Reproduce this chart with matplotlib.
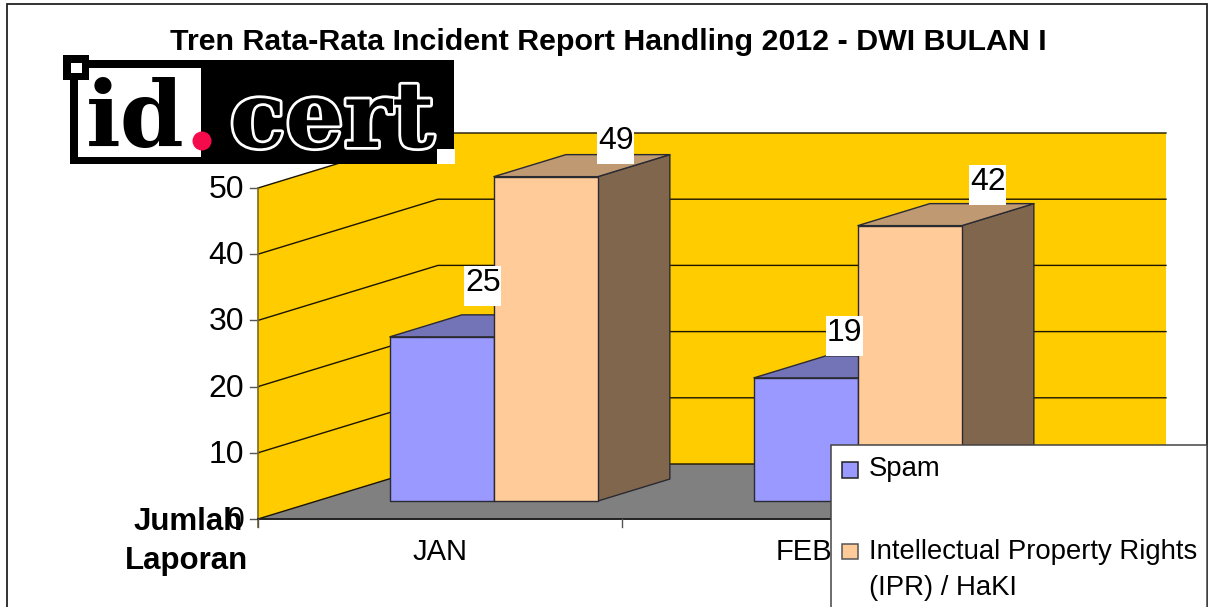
import matplotlib
matplotlib.use("Agg")
import matplotlib.pyplot as plt
import matplotlib.patheffects as pe
from matplotlib.patches import Polygon, Rectangle, Circle

plt.rcParams['font.family'] = ['Liberation Sans', 'DejaVu Sans']

# donnees
categories = ["JAN", "FEB"]
spam = [24.8, 18.6]
ipr = [49.0, 41.6]
y_ticks = [0, 10, 20, 30, 40, 50]
title = "Tren Rata-Rata Incident Report Handling 2012 - DWI BULAN I"
series_names = ["Spam", "Intellectual Property Rights\n(IPR) / HaKI"]

# echelle de la projection (pixels de l'image)
W, H = 1208, 607
PX_X = 364.0    # largeur d'une categorie
PX_Y = 6.62     # pixels pour une unite
X0, Y0 = 258, 519
DX = 180 / PX_X  # decalage de profondeur
DY = 55 / PX_Y
BAR_W = 104 / PX_X
BAR_SHIFT = -5 / PX_X
D_FRONT, D_BACK = 0.327, 0.727


def proj(x, y, d=0.0):
    return (x + d * DX, y + d * DY)


fig = plt.figure(figsize=(W / 100, H / 100), dpi=100)
ax = fig.add_axes([0, 0, 1, 1])
ax.set_xlim(-0.5 - X0 / PX_X, -0.5 + (W - X0) / PX_X)
ax.set_ylim(-(H - Y0) / PX_Y, Y0 / PX_Y)
ax.axis("off")

x_l = -0.5
x_r = len(categories) - 0.5
y_t = y_ticks[-1]

# murs et sol
ax.add_patch(Polygon([proj(x_l, 0), proj(x_l, y_t), proj(x_l, y_t, 1), proj(x_l, 0, 1)],
                     fc="#FFCC00", ec="none", zorder=1))
ax.add_patch(Polygon([proj(x_l, 0, 1), proj(x_l, y_t, 1), proj(x_r, y_t, 1), proj(x_r, 0, 1)],
                     fc="#FFCC00", ec="none", zorder=1))
ax.add_patch(Polygon([proj(x_l, 0), proj(x_l, 0, 1), proj(x_r, 0, 1), proj(x_r, 0)],
                     fc="#808080", ec="none", zorder=1))
for v in y_ticks:
    p = [proj(x_l, v), proj(x_l, v, 1), proj(x_r, v, 1)]
    ax.plot([q[0] for q in p], [q[1] for q in p], color="#1a1400", lw=1.0, zorder=2)
    ax.plot([x_l - 8 / PX_X, x_l], [v, v], color="#555555", lw=1.0, zorder=2)
    ax.text(x_l - 14 / PX_X, v - 0.3, str(v), ha="right", va="center", fontsize=23, zorder=7)
ax.plot([x_l, x_l], [y_t, -8 / PX_Y], color="#7a6a20", lw=1.2, zorder=3)
ax.plot([x_l, x_r], [0, 0], color="#222222", lw=1.4, zorder=3)
for i in range(len(categories) + 1):
    ax.plot([x_l + i, x_l + i], [0, -8 / PX_Y], color="#555555", lw=1.0, zorder=3)

for i, c in enumerate(categories):
    ax.text(i, -33 / PX_Y, c, ha="center", va="center", fontsize=21, zorder=4)


def bar3d(x, v, front, top, side):
    l = x
    r = x + BAR_W
    ed = dict(ec="#2a2a33", lw=1.0, zorder=5, joinstyle="round")
    ax.add_patch(Polygon([proj(r, 0, D_FRONT), proj(r, 0, D_BACK), proj(r, v, D_BACK), proj(r, v, D_FRONT)],
                         fc=side, **ed))
    ax.add_patch(Polygon([proj(l, v, D_FRONT), proj(r, v, D_FRONT), proj(r, v, D_BACK), proj(l, v, D_BACK)],
                         fc=top, **ed))
    ax.add_patch(Rectangle(proj(l, 0, D_FRONT), BAR_W, v, fc=front, **ed))


# deux barres cote a cote, centrees sur la categorie
for i in range(len(categories)):
    bar3d(i - BAR_W + BAR_SHIFT, spam[i], "#9999FF", "#7373B8", "#73739A")
    bar3d(i + BAR_SHIFT, ipr[i], "#FFCC99", "#BF9972", "#7F664C")

# etiquettes de valeur (decalage en pixels depuis le haut arriere de la barre)
spam_off = [(-31, 29), (-33, 20)]
ipr_off = [(-2, 11), (6, 19)]
for i in range(len(categories)):
    for vals, offs, shift in ((spam, spam_off, -BAR_W / 2), (ipr, ipr_off, BAR_W / 2)):
        x, y = proj(i + shift + BAR_SHIFT, vals[i], D_BACK)
        x = x + offs[i][0] / PX_X
        y = y + offs[i][1] / PX_Y
        ax.add_patch(Rectangle((x - 18.5 / PX_X, y - 20 / PX_Y), 37 / PX_X, 40 / PX_Y,
                               fc="white", ec="none", zorder=6))
        ax.text(x, y + 3 / PX_Y, f"{vals[i]:.0f}", ha="center", va="center", fontsize=23, zorder=6.5)

# axe en pixels pour le cadre, le logo et la legende
ov = fig.add_axes([0, 0, 1, 1], facecolor="none", zorder=10)
ov.set_xlim(0, W)
ov.set_ylim(H, 0)
ov.axis("off")

ov.plot([7, 7, 1207, 1207], [H, 4, 4, H], color="#222222", lw=1.3, solid_joinstyle="miter", zorder=1)

ov.text(608, 42, title, ha="center", va="center", fontsize=21.9, fontweight="bold")
ov.text(188, 522, "Jumlah", ha="center", va="center", fontsize=22.5, fontweight="bold", zorder=1)
ov.text(186.5, 561, "Laporan", ha="center", va="center", fontsize=22.5, fontweight="bold")

# logo
ov.add_patch(Rectangle((70, 60), 384, 104, fc="black", ec="none", zorder=2))
ov.add_patch(Rectangle((78, 68), 123, 89, fc="white", ec="none", zorder=3))
ov.add_patch(Rectangle((437, 149), 18, 15, fc="white", ec="none", zorder=3))
ov.add_patch(Rectangle((63, 55), 26, 25, fc="black", ec="none", zorder=4))
ov.add_patch(Rectangle((71, 63), 11, 10, fc="white", ec="none", zorder=5))
ov.text(135, 147, "id", ha="center", va="baseline", fontsize=66, family="DejaVu Serif", fontweight="bold",
        color="black", zorder=4)
ov.add_patch(Circle((202, 141), 9.5, fc="#F50A4B", ec="none", zorder=5))
ov.text(332, 147, "cert", ha="center", va="baseline", fontsize=66, family="DejaVu Serif", fontweight="bold",
        color="black", zorder=4, path_effects=[pe.withStroke(linewidth=4, foreground="white")])

# legende
ov.add_patch(Rectangle((831, 445), 376, 170, fc="white", ec="#444444", lw=1.1, zorder=2))
ov.add_patch(Rectangle((842, 462), 16, 16, fc="#9999FF", ec="#222222", lw=1.1, zorder=3))
ov.add_patch(Rectangle((842, 544), 16, 15, fc="#FFCC99", ec="#555555", lw=1.1, zorder=3))
ov.text(869, 469, series_names[0], ha="left", va="center", fontsize=19.8, zorder=3)
ov.text(869, 570, series_names[1], ha="left", va="center", fontsize=19.8, linespacing=1.47, zorder=3)

fig.savefig("out.png", dpi=100)
